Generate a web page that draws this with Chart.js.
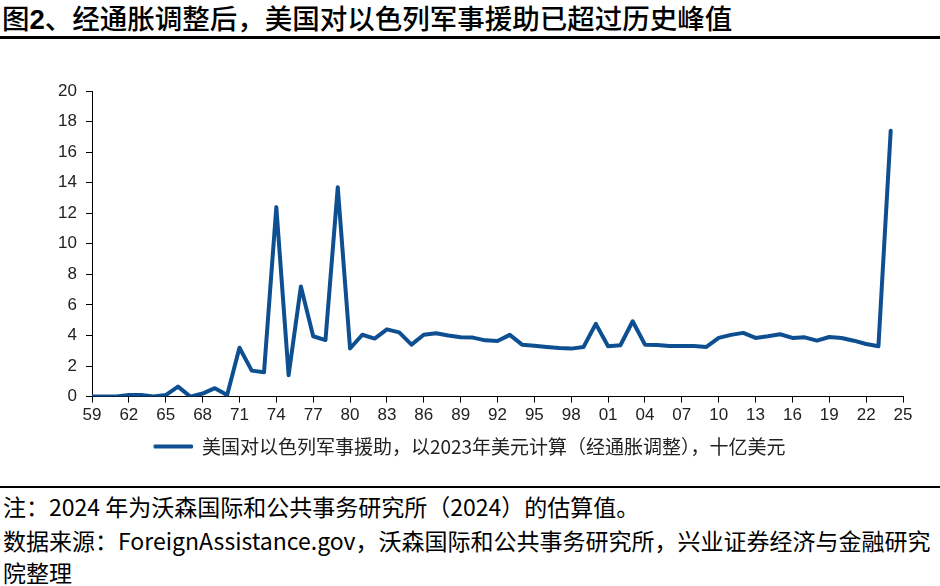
<!DOCTYPE html>
<html>
<head>
<meta charset="utf-8">
<script src="https://cdn.jsdelivr.net/npm/chart.js@4.4.0/dist/chart.umd.min.js"></script>
<style>
  html, body { margin: 0; padding: 0; background: #fff; }
  body { width: 940px; height: 586px; position: relative; overflow: hidden; font-family: "Noto Sans CJK SC", "Liberation Sans", sans-serif; }
  #title { position: absolute; left: 2px; top: 0px; font-size: 27.5px; font-weight: 500; color: #000; white-space: nowrap; line-height: 34px; }
  #title b { font-family: "Liberation Sans", sans-serif; font-weight: bold; }
  #rule-top { position: absolute; left: 0; top: 36px; width: 940px; height: 3px; background: #000; }
  #rule-bottom { position: absolute; left: 0; top: 486px; width: 940px; height: 2px; background: #000; }
  #wrap { position: absolute; left: 0; top: 50px; width: 940px; height: 420px; }
  .note { position: absolute; left: 3px; font-size: 23px; color: #000; white-space: nowrap; line-height: 28px; }
</style>
</head>
<body>
<div id="title">图<b>2</b>、经通胀调整后，美国对以色列军事援助已超过历史峰值</div>
<div id="rule-top"></div>
<div id="wrap"><canvas id="chart"></canvas></div>
<div id="rule-bottom"></div>
<div class="note" style="top:492px">注：2024 年为沃森国际和公共事务研究所（2024）的估算值。</div>
<div class="note" style="top:526px">数据来源：ForeignAssistance.gov，沃森国际和公共事务研究所，兴业证券经济与金融研究</div>
<div class="note" style="top:558px">院整理</div>
<script>
const seriesName = "美国对以色列军事援助，以2023年美元计算（经通胀调整），十亿美元";

const years = [
  1959, 1960, 1961, 1962, 1963, 1964, 1965, 1966, 1967, 1968,
  1969, 1970, 1971, 1972, 1973, 1974, 1975, 1976, 1977, 1978,
  1979, 1980, 1981, 1982, 1983, 1984, 1985, 1986, 1987, 1988,
  1989, 1990, 1991, 1992, 1993, 1994, 1995, 1996, 1997, 1998,
  1999, 2000, 2001, 2002, 2003, 2004, 2005, 2006, 2007, 2008,
  2009, 2010, 2011, 2012, 2013, 2014, 2015, 2016, 2017, 2018,
  2019, 2020, 2021, 2022, 2023, 2024
];

const aid = [
  0, 0, 0, 0.1, 0.1, 0, 0.1, 0.65, 0, 0.2,
  0.55, 0.1, 3.2, 1.7, 1.6, 12.4, 1.4, 7.2, 3.95, 3.7,
  13.7, 3.15, 4.05, 3.8, 4.4, 4.2, 3.4, 4.05, 4.15, 4.0,
  3.88, 3.86, 3.68, 3.64, 4.04, 3.4, 3.33, 3.25, 3.18, 3.14,
  3.25, 4.76, 3.29, 3.36, 4.93, 3.4, 3.38, 3.31, 3.31, 3.31,
  3.25, 3.84, 4.04, 4.17, 3.84, 3.95, 4.08, 3.84, 3.88, 3.66,
  3.9, 3.84, 3.66, 3.44, 3.29, 17.4
];

const xMin = 1959, xMax = 2025, xStep = 3;
const yMin = 0, yMax = 20, yStep = 2;

const lineColor = "#0d4f90";
const axisColor = "#000";
const tickFont = { family: "Liberation Sans", size: 17 };

new Chart(document.getElementById("chart").getContext("2d"), {
  type: "line",
  data: {
    datasets: [{
      label: seriesName,
      data: years.map((y, i) => ({ x: y, y: aid[i] })),
      borderColor: lineColor,
      backgroundColor: lineColor,
      borderWidth: 4,
      pointRadius: 0,
      tension: 0,
      borderJoinStyle: "round",
      borderCapStyle: "round"
    }]
  },
  options: {
    responsive: true,
    maintainAspectRatio: false,
    animation: false,
    layout: { padding: { top: 41, right: 0, bottom: 4, left: 0 } },
    scales: {
      x: {
        type: "linear",
        min: xMin, max: xMax,
        // keep the plot's right edge at 903 without shrinking the legend row
        afterFit: s => { s.paddingRight = 37; },
        grid: { drawOnChartArea: false, drawTicks: true, tickLength: 6, color: axisColor },
        border: { display: true, color: axisColor, width: 1 },
        ticks: {
          stepSize: xStep, autoSkip: false, maxRotation: 0, padding: 3,
          color: "#222", font: tickFont,
          callback: v => String(v % 100).padStart(2, "0")
        }
      },
      y: {
        min: yMin, max: yMax,
        afterFit: s => { s.width = 92; },
        grid: { drawOnChartArea: false, drawTicks: true, tickLength: 6, color: axisColor },
        border: { display: true, color: axisColor, width: 1 },
        ticks: { stepSize: yStep, padding: 9, color: "#222", font: tickFont }
      }
    },
    plugins: {
      legend: {
        position: "bottom",
        labels: {
          boxWidth: 38, boxHeight: 3, color: "#222", padding: 8,
          font: { family: "Noto Sans CJK SC", size: 19 },
          generateLabels: chart => Chart.defaults.plugins.legend.labels.generateLabels(chart)
            .map(l => ({ ...l, lineWidth: 1, strokeStyle: lineColor, fillStyle: lineColor }))
        }
      },
      tooltip: { enabled: false }
    }
  }
});
</script>
</body>
</html>
